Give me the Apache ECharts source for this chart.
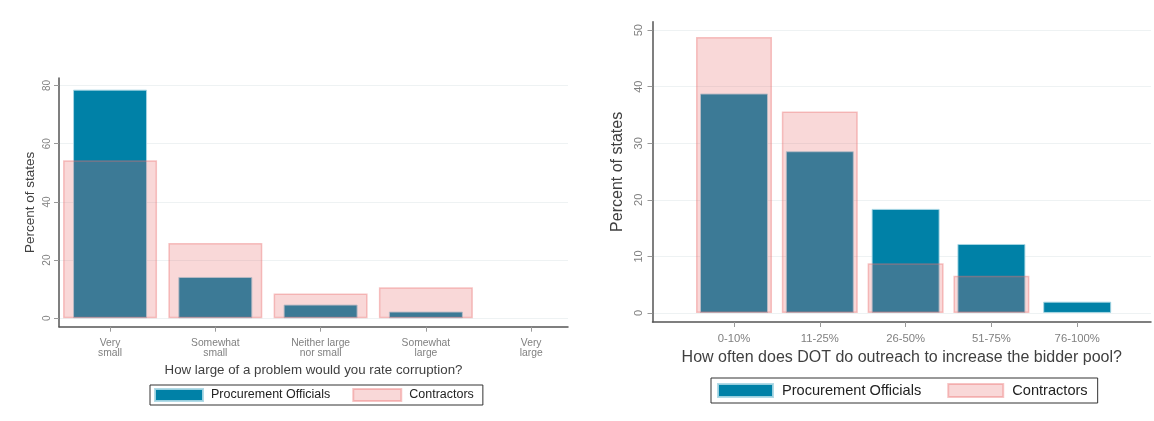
<!DOCTYPE html>
<html>
<head>
<meta charset="utf-8">
<title>Corruption and outreach survey</title>
<script src="https://cdn.jsdelivr.net/npm/echarts@6/dist/echarts.min.js"></script>
<style>
  html, body { margin: 0; padding: 0; background: #fff; }
  #chart { width: 1154px; height: 421px; }
</style>
</head>
<body>
<div id="chart"></div>
<script>
// left panel: how large a problem is corruption
var problemLabels = ['Very\nsmall', 'Somewhat\nsmall', 'Neither large\nnor small', 'Somewhat\nlarge', 'Very\nlarge'];
var problemOfficials = [78.6, 14.2, 4.7, 2.3, 0];
var problemContractors = [54.3, 25.9, 8.5, 10.7, 0];
var problemTicks = [0, 20, 40, 60, 80];

// right panel: DOT outreach to widen the bidder pool
var outreachLabels = ['0-10%', '11-25%', '26-50%', '51-75%', '76-100%'];
var outreachOfficials = [38.8, 28.6, 18.4, 12.2, 2.0];
var outreachContractors = [48.8, 35.6, 8.8, 6.6, 0];
var outreachTicks = [0, 10, 20, 30, 40, 50];

var seriesNames = ['Procurement Officials', 'Contractors'];
var catPositions = [1, 2, 3, 4, 5];

var FONT = 'Liberation Sans, Arial, sans-serif';
var BLUE = '#0081a7';
var PINK = 'rgba(232,105,105,0.26)';

// zero-height bars get no outline, otherwise a stray line shows up on the axis
function toPoints(values) {
    return values.map(function (v, i) {
        var p = { value: [catPositions[i], v] };
        if (v === 0) p.itemStyle = { borderWidth: 0, opacity: 0 };
        return p;
    });
}

var blueStyle = { color: BLUE, borderColor: 'rgba(170,215,228,0.9)', borderWidth: 1 };
var pinkStyle = { color: PINK, borderColor: 'rgba(235,110,110,0.4)', borderWidth: 1.5 };

function catAxis(gridIndex, min, max, labels, show, fontSize, margin, lineHeight, name, nameSize, nameGap) {
    return {
        type: 'value',
        gridIndex: gridIndex,
        min: min,
        max: max,
        show: show,
        name: name,
        nameLocation: 'middle',
        nameGap: nameGap,
        nameTextStyle: { fontFamily: FONT, fontSize: nameSize, color: '#404040' },
        axisLine: { show: true, onZero: false, lineStyle: { color: '#555', width: 1.5 } },
        axisTick: { show: true, customValues: catPositions, length: 5, lineStyle: { color: '#999' } },
        axisLabel: {
            customValues: catPositions,
            formatter: function (v) { return labels[Math.round(v) - 1]; },
            fontFamily: FONT, fontSize: fontSize, color: '#808080',
            margin: margin, lineHeight: lineHeight
        },
        splitLine: { show: false }
    };
}

function valAxis(gridIndex, min, max, ticks, fontSize, margin, nameSize, nameGap) {
    return {
        type: 'value',
        gridIndex: gridIndex,
        min: min,
        max: max,
        name: 'Percent of states',
        nameLocation: 'middle',
        nameRotate: 90,
        nameGap: nameGap,
        nameTextStyle: { fontFamily: FONT, fontSize: nameSize, color: '#404040' },
        axisLine: { show: true, onZero: false, lineStyle: { color: '#555', width: 1.5 } },
        axisTick: { show: true, customValues: ticks, length: 5, lineStyle: { color: '#999' } },
        axisLabel: {
            customValues: ticks, rotate: 90,
            fontFamily: FONT, fontSize: fontSize, color: '#808080', margin: margin
        },
        splitLine: { show: true, lineStyle: { color: '#eef2f3', width: 1 } }
    };
}

var chart = echarts.init(document.getElementById('chart'));
chart.setOption({
    backgroundColor: '#fff',
    animation: false,
    grid: [
        { left: 59, top: 78, width: 509, height: 248.7 },
        { left: 652.5, top: 21.7, width: 498.5, height: 300.3 }
    ],
    xAxis: [
        catAxis(0, 0.515, 5.35, problemLabels, true, 10.3, 11, 10.5,
            'How large of a problem would you rate corruption?', 13.3, 34),
        catAxis(0, 0.515, 5.35, problemLabels, false, 10.3, 11, 10.5, '', 13, 34),
        catAxis(1, 0.05, 5.86, outreachLabels, true, 11.3, 11, 12,
            'How often does DOT do outreach to increase the bidder pool?', 16, 27),
        catAxis(1, 0.05, 5.86, outreachLabels, false, 11.3, 11, 12, '', 16, 27)
    ],
    yAxis: [
        valAxis(0, -2.9, 82.6, problemTicks, 10, 7, 13.5, 22),
        valAxis(1, -1.6, 51.5, outreachTicks, 11, 8, 16, 27)
    ],
    legend: [
        {
            data: seriesNames,
            left: 150, top: 385,
            orient: 'horizontal',
            itemWidth: 48, itemHeight: 12, itemGap: 22,
            padding: [3, 9, 3, 4],
            borderColor: '#333', borderWidth: 1,
            icon: 'rect',
            textStyle: { fontFamily: FONT, fontSize: 12.5, color: '#222', padding: [0, 0, 0, 3] }
        },
        {
            data: seriesNames,
            left: 711, top: 378,
            orient: 'horizontal',
            itemWidth: 55, itemHeight: 13, itemGap: 26,
            padding: [5, 10, 5, 6],
            borderColor: '#333', borderWidth: 1,
            icon: 'rect',
            textStyle: { fontFamily: FONT, fontSize: 14.6, color: '#222', padding: [0, 0, 0, 4] }
        }
    ],
    series: [
        {
            name: seriesNames[0], type: 'bar', xAxisIndex: 0, yAxisIndex: 0,
            barWidth: 74, itemStyle: blueStyle, z: 2,
            data: toPoints(problemOfficials)
        },
        {
            name: seriesNames[1], type: 'bar', xAxisIndex: 1, yAxisIndex: 0,
            barWidth: 94, itemStyle: pinkStyle, z: 3,
            data: toPoints(problemContractors)
        },
        {
            name: seriesNames[0], type: 'bar', xAxisIndex: 2, yAxisIndex: 1,
            barWidth: 68, itemStyle: blueStyle, z: 2,
            data: toPoints(outreachOfficials)
        },
        {
            name: seriesNames[1], type: 'bar', xAxisIndex: 3, yAxisIndex: 1,
            barWidth: 76, itemStyle: pinkStyle, z: 3,
            data: toPoints(outreachContractors)
        }
    ]
});
</script>
</body>
</html>
